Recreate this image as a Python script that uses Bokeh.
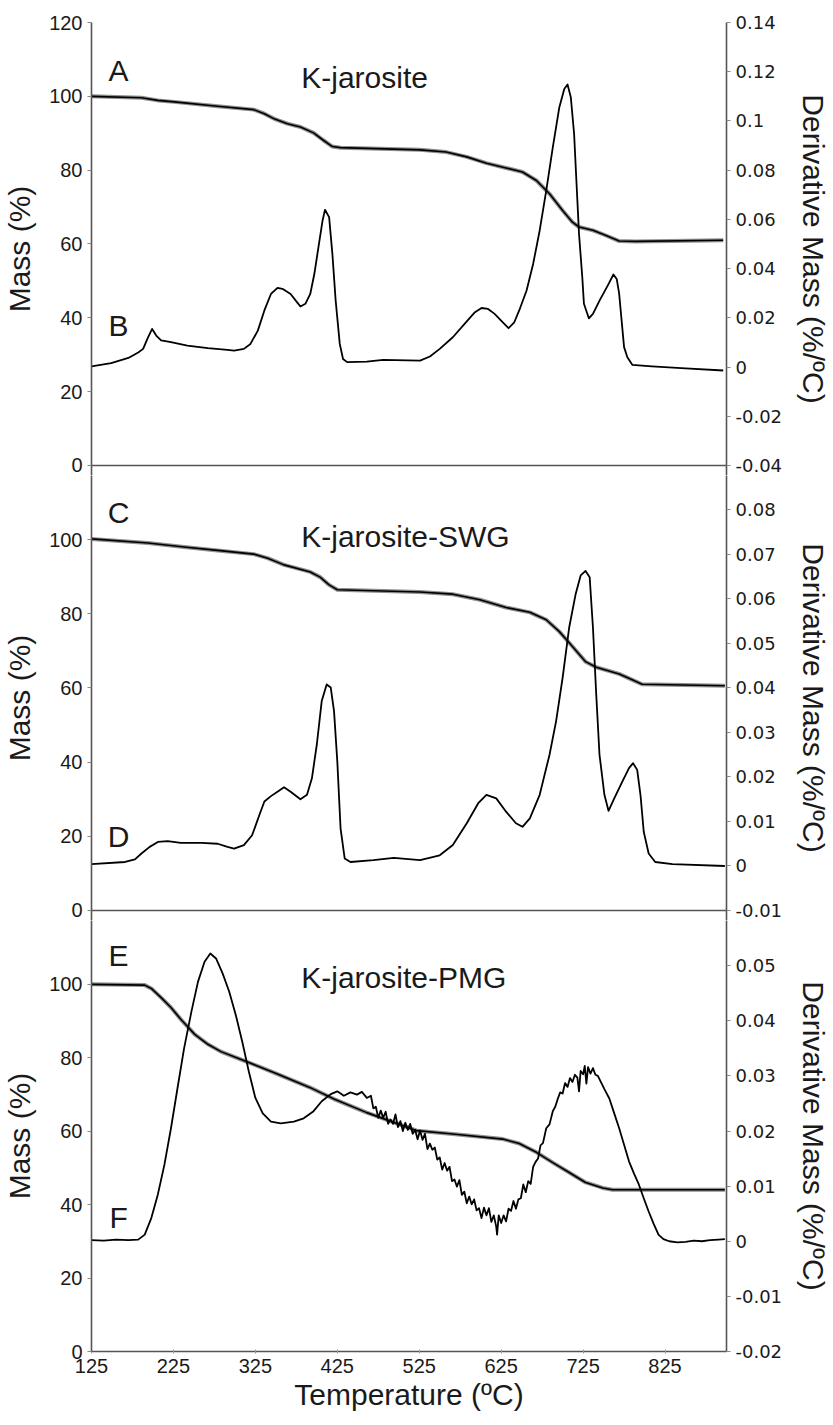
from bokeh.plotting import figure
from bokeh.models import Range1d, LinearAxis, FixedTicker, Span, CustomJSTickFormatter
from bokeh.layouts import column
from bokeh.core.properties import value
from bokeh.embed import file_html
from bokeh.resources import INLINE

# ---------------- data ----------------
x_ticks = [125, 225, 325, 425, 525, 625, 725, 825]

# Panel A/B : K-jarosite
t_mass_a = [125, 186, 206, 226, 279, 323, 336, 348, 364, 380, 396, 408, 419, 429, 526, 558, 583,
            607, 631, 651, 668, 684, 700, 712, 720, 737, 753, 769, 789, 896]
mass_a = [100.0, 99.6, 98.9, 98.5, 97.3, 96.4, 95.3, 93.9, 92.6, 91.7, 90.1, 88.1, 86.4, 86.1,
          85.5, 84.9, 83.6, 81.9, 80.6, 79.5, 77.2, 73.6, 69.1, 65.9, 64.6, 63.7, 62.3, 60.8,
          60.7, 61.0]
t_deriv_b = [125, 149, 170, 182, 188, 194, 199, 204, 210, 222, 242, 267, 291, 299, 311, 319, 328,
             336, 344, 352, 358, 368, 376, 380, 386, 392, 397, 402, 407, 410, 415, 419, 423, 428,
             432, 437, 461, 481, 526, 538, 550, 566, 583, 593, 601, 609, 617, 627, 634, 641, 647,
             656, 664, 672, 680, 688, 696, 702, 706, 710, 714, 717, 720, 724, 726, 732, 737, 745,
             755, 762, 766, 769, 772, 775, 779, 785, 809, 850, 896]
deriv_b = [0.0003, 0.0016, 0.0037, 0.0059, 0.0074, 0.0121, 0.0155, 0.0128, 0.0108, 0.0101,
           0.0087, 0.0077, 0.0070, 0.0067, 0.0074, 0.0094, 0.0148, 0.0230, 0.0297, 0.0322,
           0.0318, 0.0297, 0.0263, 0.0246, 0.0257, 0.0297, 0.0379, 0.0487, 0.0595, 0.0639,
           0.0609, 0.0460, 0.0270, 0.0094, 0.0033, 0.0020, 0.0022, 0.0029, 0.0026, 0.0043,
           0.0074, 0.0121, 0.0186, 0.0223, 0.0240, 0.0236, 0.0216, 0.0182, 0.0158, 0.0182,
           0.0230, 0.0311, 0.0419, 0.0555, 0.0717, 0.0893, 0.1056, 0.1130, 0.1148, 0.1096,
           0.0948, 0.0744, 0.0541, 0.0365, 0.0257, 0.0198, 0.0216, 0.0270, 0.0331, 0.0376,
           0.0358, 0.0298, 0.0189, 0.0081, 0.0040, 0.0009, 0.0003, -0.0005, -0.0014]

# Panel C/D : K-jarosite-SWG
t_mass_c = [125, 194, 238, 279, 323, 340, 360, 392, 404, 415, 425, 526, 566, 599, 631, 660, 680,
            696, 712, 728, 741, 769, 785, 797, 898]
mass_c = [100.2, 99.1, 98.0, 97.1, 96.1, 95.0, 93.2, 91.3, 89.9, 87.8, 86.5, 85.9, 85.3, 83.8,
          81.7, 80.4, 78.4, 75.2, 71.2, 67.1, 65.6, 63.8, 62.2, 61.0, 60.6]
t_deriv_d = [125, 166, 178, 186, 196, 206, 218, 234, 259, 279, 291, 299, 311, 321, 330, 336, 344,
             352, 360, 368, 380, 388, 394, 400, 406, 412, 417, 421, 425, 429, 434, 441, 469, 494,
             526, 550, 566, 583, 597, 607, 619, 631, 643, 651, 660, 672, 684, 692, 700, 708, 716,
             722, 728, 733, 737, 741, 745, 751, 756, 763, 773, 781, 786, 791, 795, 799, 805, 813,
             834, 898]
deriv_d = [0.0004, 0.0009, 0.0015, 0.0028, 0.0043, 0.0054, 0.0056, 0.0052, 0.0052, 0.0050,
           0.0043, 0.0039, 0.0047, 0.0069, 0.0115, 0.0145, 0.0157, 0.0167, 0.0177, 0.0167,
           0.0150, 0.0160, 0.0197, 0.0273, 0.0371, 0.0408, 0.0401, 0.0348, 0.0235, 0.0084,
           0.0017, 0.0009, 0.0013, 0.0018, 0.0013, 0.0024, 0.0047, 0.0096, 0.0141, 0.0160,
           0.0152, 0.0122, 0.0096, 0.0088, 0.0107, 0.0160, 0.0250, 0.0325, 0.0423, 0.0536,
           0.0612, 0.0653, 0.0663, 0.0649, 0.0536, 0.0386, 0.0250, 0.0160, 0.0124, 0.0152,
           0.0190, 0.0220, 0.0231, 0.0216, 0.0160, 0.0077, 0.0028, 0.0009, 0.0004, 0.0]

# Panel E/F : K-jarosite-PMG
t_mass_e = [125, 190, 198, 210, 222, 234, 251, 267, 283, 307, 332, 352, 392, 421, 461, 522, 566,
            627, 647, 668, 688, 708, 728, 749, 761, 898]
mass_e = [99.9, 99.7, 98.8, 96.3, 93.6, 90.4, 86.3, 83.6, 81.6, 79.5, 77.3, 75.5, 71.8, 68.7,
          65.0, 60.1, 59.2, 57.8, 56.6, 54.2, 51.4, 48.7, 46.0, 44.5, 44.0, 44.0]
t_deriv_f = [125, 140, 155, 170, 182, 190, 198, 206, 214, 222, 230, 238, 247, 255, 263, 270, 277,
             285, 293, 301, 309, 317, 325, 334, 344, 356, 372, 384, 396, 406, 417, 425, 433, 441,
             449, 455, 461,
             466, 469, 472, 475, 478, 481, 484, 487, 490, 493, 496, 499, 502, 505, 508, 511, 514,
             517, 520, 523, 526, 529, 532, 535, 538, 541, 544, 547, 550, 553, 556, 559, 562, 565,
             568, 571, 574, 577, 580, 583, 586, 589, 592, 595, 598, 601, 604, 607, 610, 613, 616,
             619, 620, 622, 625, 628, 631, 634, 637, 640, 643, 646, 649, 652, 655, 658, 661, 664,
             667, 670, 673, 676, 680, 684, 688, 691, 694, 697, 700, 703, 706, 709, 712, 715, 718,
             720, 722, 725, 727, 729, 731, 734, 737, 740, 743, 746, 751, 757, 763, 769, 775, 781,
             787, 793, 799, 805, 811, 817, 823, 830, 840, 850, 860, 870, 880, 890, 898]
deriv_f = [0.0002, 0.0001, 0.0003, 0.0002, 0.0003, 0.0012, 0.0042, 0.0085, 0.0139, 0.0205,
           0.0278, 0.0350, 0.0417, 0.0471, 0.0507, 0.0522, 0.0513, 0.0486, 0.0453, 0.0411,
           0.0362, 0.0308, 0.0260, 0.0232, 0.0217, 0.0214, 0.0217, 0.0223, 0.0236, 0.0254,
           0.0267, 0.0272, 0.0264, 0.0270, 0.0266, 0.0271, 0.0260,
           0.0264, 0.0241, 0.0244, 0.0224, 0.0237, 0.0224, 0.0235, 0.0213, 0.0221, 0.0213,
           0.0230, 0.0207, 0.0218, 0.0200, 0.0215, 0.0202, 0.0213, 0.0195, 0.0202, 0.0185,
           0.0201, 0.0184, 0.0195, 0.0167, 0.0177, 0.0166, 0.0170, 0.0148, 0.0152, 0.0130,
           0.0142, 0.0128, 0.0135, 0.0109, 0.0112, 0.0099, 0.0111, 0.0084, 0.0090, 0.0069,
           0.0081, 0.0067, 0.0076, 0.0056, 0.0060, 0.0042, 0.0061, 0.0047, 0.0060, 0.0035,
           0.0047, 0.0026, 0.0012, 0.0047, 0.0033, 0.0047, 0.0036, 0.0059, 0.0055, 0.0073,
           0.0059, 0.0076, 0.0078, 0.0103, 0.0089, 0.0109, 0.0104, 0.0135,
           0.0144, 0.0150, 0.0174, 0.0178, 0.0205, 0.0212, 0.0236, 0.0244, 0.0258, 0.0270,
           0.0268, 0.0287, 0.0280, 0.0296, 0.0289, 0.0302, 0.0297, 0.0272, 0.0309, 0.0303,
           0.0318, 0.0286, 0.0316, 0.0304, 0.0314, 0.0302, 0.0300, 0.0291, 0.0276, 0.0259,
           0.0232, 0.0205, 0.0175, 0.0145, 0.0123, 0.0103, 0.0078, 0.0054, 0.0032, 0.0012,
           0.0004, 0.0, -0.0002, -0.0001, 0.0001, 0.0, 0.0002, 0.0003, 0.0004]

titles = ["K-jarosite", "K-jarosite-SWG", "K-jarosite-PMG"]
letters = [("A", "B"), ("C", "D"), ("E", "F")]

mass_ticks = [[0, 20, 40, 60, 80, 100, 120], [0, 20, 40, 60, 80, 100], [0, 20, 40, 60, 80, 100]]
deriv_ticks = [[-0.04, -0.02, 0, 0.02, 0.04, 0.06, 0.08, 0.1, 0.12, 0.14],
               [-0.01, 0, 0.01, 0.02, 0.03, 0.04, 0.05, 0.06, 0.07, 0.08],
               [-0.02, -0.01, 0, 0.01, 0.02, 0.03, 0.04, 0.05]]

# ---------------- layout ----------------
W = 833
LB, RB = 90, 105
AXC = "#555555"
TXT = "#1a1a1a"

panels = [
    dict(h=475, top=22, bot=0, yr=(-2.709, 120), dr=(-0.04406, 0.14), ly=(107, 38), ty=105),
    dict(h=445, top=0, bot=0, yr=(-2.697, 117.30), dr=(-0.01225, 0.08775), ly=(107.3, 20), ty=100.9),
    dict(h=505, top=0, bot=74, yr=(0, 117.28), dr=(-0.02, 0.05819), ly=(107.8, 36.5), ty=101.8),
]
data = [
    (t_mass_a, mass_a, t_deriv_b, deriv_b),
    (t_mass_c, mass_c, t_deriv_d, deriv_d),
    (t_mass_e, mass_e, t_deriv_f, deriv_f),
]

fmt = CustomJSTickFormatter(code="return tick.toString();")

figs = []
for i, (cfg, (tm, m, td, d)) in enumerate(zip(panels, data)):
    p = figure(width=W, height=cfg["h"], x_range=Range1d(125, 900), y_range=Range1d(*cfg["yr"]),
               output_backend="svg", toolbar_location=None,
               x_axis_location=None, y_axis_location=None,
               min_border_left=LB, min_border_right=RB,
               min_border_top=cfg["top"], min_border_bottom=cfg["bot"])
    p.grid.grid_line_color = None
    p.outline_line_color = None
    p.background_fill_color = "white"
    p.border_fill_color = "white"
    p.extra_y_ranges = {"d": Range1d(*cfg["dr"])}

    la = LinearAxis(ticker=FixedTicker(ticks=mass_ticks[i]), axis_label="Mass (%)")
    ra = LinearAxis(y_range_name="d", ticker=FixedTicker(ticks=deriv_ticks[i]),
                    axis_label="Derivative Mass (%/ºC)", formatter=fmt)
    for ax, font, fs in ((la, "Liberation Sans", "20px"), (ra, "DejaVu Sans", "18px")):
        ax.axis_line_color = AXC
        ax.axis_line_width = 1.6
        ax.major_tick_line_color = "#888888"
        ax.major_tick_out = 4
        ax.major_tick_in = 0
        ax.minor_tick_line_color = None
        ax.major_label_text_font = font
        ax.major_label_text_font_size = fs
        ax.major_label_text_color = TXT
        ax.major_label_standoff = 5
        ax.axis_label_text_font = "Liberation Sans"
        ax.axis_label_text_font_size = "30px"
        ax.axis_label_text_font_style = "normal"
        ax.axis_label_text_color = TXT
    la.axis_label_standoff = 10
    ra.axis_label_standoff = 12
    p.add_layout(la, "left")
    p.add_layout(ra, "right")

    if i < 2:
        p.add_layout(Span(location=0, dimension="width", line_color=AXC, line_width=1.6))
    else:
        xa = LinearAxis(ticker=FixedTicker(ticks=x_ticks), axis_label="Temperature (ºC)")
        xa.axis_line_color = AXC
        xa.axis_line_width = 1.6
        xa.major_tick_line_color = "#999999"
        xa.major_tick_out = 2
        xa.major_tick_in = 2
        xa.minor_tick_line_color = None
        xa.major_label_text_font = "Liberation Sans"
        xa.major_label_text_font_size = "20px"
        xa.major_label_text_color = TXT
        xa.major_label_standoff = 5
        xa.axis_label_text_font = "Liberation Sans"
        xa.axis_label_text_font_size = "30px"
        xa.axis_label_text_font_style = "normal"
        xa.axis_label_text_color = TXT
        xa.axis_label_standoff = 2
        p.add_layout(xa, "below")

    # mass curve: grey halo + black line
    p.line(tm, m, line_color="#8f8f8f", line_width=4, line_join="round")
    p.line(tm, m, line_color="black", line_width=1.6, line_join="round")
    # derivative curve
    p.line(td, d, y_range_name="d", line_color="black", line_width=1.8, line_join="round")

    p.text(x=[158, 158], y=list(cfg["ly"]), text=list(letters[i]), text_align="center",
           text_baseline="middle", text_font=value("Liberation Sans"), text_font_size="30px",
           text_color=TXT)
    p.text(x=[381], y=[cfg["ty"]], text=[titles[i]], text_align="left", text_baseline="middle",
           text_font=value("Liberation Sans"), text_font_size="30px", text_color=TXT)
    figs.append(p)

layout = column(*figs, spacing=0)
open("out.html", "w").write(file_html(layout, INLINE))
